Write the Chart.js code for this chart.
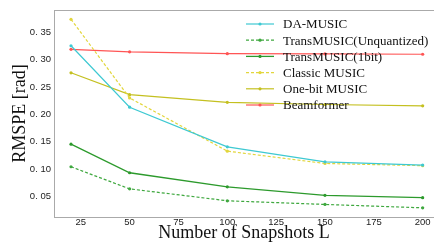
<!DOCTYPE html>
<html>
<head>
<meta charset="utf-8">
<script src="https://cdn.jsdelivr.net/npm/chart.js@4/dist/chart.umd.min.js"></script>
<style>
  html, body { margin: 0; padding: 0; background: #fff; }
  #wrap { width: 434px; height: 242px; }
</style>
</head>
<body>
<div id="wrap"><canvas id="chart" width="434" height="242"></canvas></div>
<script>
// Data
const snapshots = [20, 50, 100, 150, 200];
const xTicks = [25, 50, 75, 100, 125, 150, 175, 200];
const yTicks = [0.05, 0.10, 0.15, 0.20, 0.25, 0.30, 0.35];
const daMusic = [0.3255, 0.213, 0.1405, 0.113, 0.107];
const transUnquantized = [0.104, 0.0635, 0.0417, 0.035, 0.0288];
const trans1bit = [0.1454, 0.093, 0.0672, 0.0516, 0.0474];
const classicMusic = [0.374, 0.230, 0.1326, 0.110, 0.106];
const onebitMusic = [0.276, 0.236, 0.222, 0.218, 0.2156];
const beamformer = [0.319, 0.3145, 0.311, 0.3105, 0.310];

const pts = arr => arr.map((v, i) => ({ x: snapshots[i], y: v }));

function series(label, values, color, dashed, width) {
  return {
    label,
    data: pts(values),
    borderColor: color,
    backgroundColor: color,
    borderWidth: width || 1.2,
    borderDash: dashed ? [3, 2] : [],
    pointRadius: 1.6,
    pointBorderWidth: 0,
    tension: 0
  };
}

// legend drawn inside the plot, no frame
const innerLegend = {
  id: "innerLegend",
  afterDatasetsDraw(chart) {
    const ctx = chart.ctx;
    const x0 = 246, x1 = 274, tx = 283;
    let y = 24;
    ctx.save();
    chart.data.datasets.forEach(ds => {
      ctx.strokeStyle = ds.borderColor;
      ctx.lineWidth = ds.borderWidth;
      ctx.setLineDash(ds.borderDash);
      ctx.beginPath();
      ctx.moveTo(x0, y);
      ctx.lineTo(x1, y);
      ctx.stroke();
      ctx.setLineDash([]);
      ctx.fillStyle = ds.borderColor;
      ctx.beginPath();
      ctx.arc((x0 + x1) / 2, y, 1.6, 0, Math.PI * 2);
      ctx.fill();
      ctx.fillStyle = "#111";
      ctx.font = "13px 'Liberation Serif', serif";
      ctx.textBaseline = "middle";
      ctx.fillText(ds.label, tx, y + 1);
      y += 16.2;
    });
    // top spine
    const a = chart.chartArea;
    ctx.strokeStyle = "#aaa";
    ctx.lineWidth = 1;
    ctx.beginPath();
    ctx.moveTo(a.left, a.top + 0.5);
    ctx.lineTo(434, a.top + 0.5);
    ctx.stroke();
    ctx.restore();
  }
};

new Chart(document.getElementById("chart").getContext("2d"), {
  type: "line",
  data: {
    datasets: [
      series("DA-MUSIC", daMusic, "#3ec9d2", false),
      series("TransMUSIC(Unquantized)", transUnquantized, "#3fa83f", true),
      series("TransMUSIC(1bit)", trans1bit, "#2c9a2c", false, 1.3),
      series("Classic MUSIC", classicMusic, "#e2d63c", true),
      series("One-bit MUSIC", onebitMusic, "#c4c020", false),
      series("Beamformer", beamformer, "#ff5555", false)
    ]
  },
  options: {
    responsive: false,
    animation: false,
    layout: { autoPadding: false, padding: { top: 10, right: 0, left: 0, bottom: 0 } },
    plugins: { legend: { display: false }, tooltip: { enabled: false } },
    scales: {
      x: {
        type: "linear",
        min: 11.3,
        max: 205.8,
        afterBuildTicks: axis => { axis.ticks = xTicks.map(v => ({ value: v })); },
        afterFit: axis => { axis.height = 25; axis.paddingRight = 0; axis.paddingLeft = 0; },
        grid: { display: false, drawTicks: false },
        border: { color: "#aaa", width: 1 },
        ticks: {
          color: "#222",
          padding: 1,
          font: { family: "'Liberation Sans', Arial, sans-serif", size: 9.5, lineHeight: 1 },
          maxRotation: 0
        },
        title: {
          display: true,
          text: "Number of Snapshots L",
          color: "#111",
          padding: { top: 0, bottom: 0 },
          font: { family: "'Liberation Serif', serif", size: 18, lineHeight: 1 }
        }
      },
      y: {
        min: 0.012,
        max: 0.391,
        afterBuildTicks: axis => { axis.ticks = yTicks.map(v => ({ value: v })); },
        afterFit: axis => { axis.width = 54; axis.paddingTop = 0; axis.paddingBottom = 0; },
        grid: { display: false, drawTicks: false },
        border: { color: "#aaa", width: 1 },
        ticks: {
          color: "#222",
          padding: 3,
          font: { family: "'Liberation Sans', Arial, sans-serif", size: 9.5 },
          callback: v => "0. " + v.toFixed(2).slice(2)
        },
        title: {
          display: true,
          text: "RMSPE [rad]",
          color: "#111",
          padding: { top: 11, bottom: 0 },
          font: { family: "'Liberation Serif', serif", size: 18, lineHeight: 1 }
        }
      }
    }
  },
  plugins: [innerLegend]
});
</script>
</body>
</html>
